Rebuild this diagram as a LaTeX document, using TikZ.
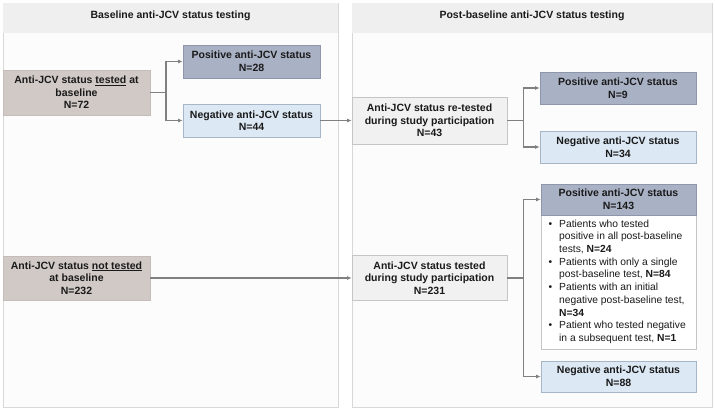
\documentclass[tikz,border=0pt]{standalone}
\usepackage{fontspec}
\setmainfont{Liberation Sans}
\usetikzlibrary{arrows.meta}
\definecolor{panelfill}{HTML}{FCFCFC}
\definecolor{panelborder}{HTML}{D8D8D8}
\definecolor{headfill}{HTML}{EFEFEF}
\definecolor{taupe}{HTML}{D0C9C6}
\definecolor{taupeb}{HTML}{C4BCB9}
\definecolor{posfill}{HTML}{A9B1C4}
\definecolor{posborder}{HTML}{8D96AA}
\definecolor{negfill}{HTML}{DCE9F5}
\definecolor{negborder}{HTML}{A7B6C6}
\definecolor{greyfill}{HTML}{F1F1F1}
\definecolor{greyborder}{HTML}{C5C5C5}
\definecolor{linegrey}{HTML}{808080}
\definecolor{txt}{HTML}{1A1A1A}
\tikzset{
  panel/.style={fill=panelfill, draw=panelborder, line width=0.6pt},
  headband/.style={fill=headfill, draw=none},
  headtext/.style={font=\fontsize{10.5}{12.6}\selectfont\bfseries, text=txt},
  box/.style={font=\fontsize{10.5}{12.6}\selectfont\bfseries, text=txt, align=center, inner sep=0pt, line width=0.6pt},
  taupebox/.style={box, fill=taupe, draw=taupeb},
  posbox/.style={box, fill=posfill, draw=posborder},
  negbox/.style={box, fill=negfill, draw=negborder},
  greybox/.style={box, fill=greyfill, draw=greyborder},
  listbox/.style={fill=white, draw=greyborder, line width=0.6pt, inner sep=0pt},
  conn/.style={draw=linegrey, line width=1.1pt},
  arr/.style={conn, -{Latex[length=4.5pt,width=4pt]}}
}
\begin{document}
\begin{tikzpicture}[x=1pt,y=-1pt]
\useasboundingbox (0,0) rectangle (715,410);
% panels
\draw[panel] (3,3) rectangle (338,407);
\fill[headband] (3.4,3.4) rectangle (337.6,33);
\draw[panel] (352,3) rectangle (712,407);
\fill[headband] (352.4,3.4) rectangle (711.6,33);
\node[headtext] (h1) at (170.5,16) {Baseline anti-JCV status testing};
\node[headtext] (h2) at (532,16) {Post-baseline anti-JCV status testing};
% left column
\node[taupebox, minimum width=147pt, minimum height=45pt] (tested) at (76.5,92.5)
  {Anti-JCV status \underline{tested} at\\baseline\\N=72};
\node[posbox, minimum width=137pt, minimum height=33pt] (pos28) at (251.5,61.5)
  {Positive anti-JCV status\\N=28};
\node[negbox, minimum width=137pt, minimum height=33pt] (neg44) at (251.5,120.5)
  {Negative anti-JCV status\\N=44};
\node[taupebox, minimum width=147pt, minimum height=44pt] (nottested) at (76.5,278)
  {Anti-JCV status \underline{not tested}\\at baseline\\N=232};
% right column
\node[greybox, minimum width=155pt, minimum height=47pt] (retest) at (429.5,120.5)
  {Anti-JCV status re-tested\\during study participation\\N=43};
\node[posbox, minimum width=156pt, minimum height=32pt] (pos9) at (618,88)
  {Positive anti-JCV status\\N=9};
\node[negbox, minimum width=156pt, minimum height=32pt] (neg34) at (618,147)
  {Negative anti-JCV status\\N=34};
\node[greybox, minimum width=155pt, minimum height=45pt] (t231) at (429.5,278)
  {Anti-JCV status tested\\during study participation\\N=231};
\node[listbox, minimum width=155pt, minimum height=134pt] (list) at (618.5,282) {};
\node[posbox, minimum width=155pt, minimum height=31pt] (pos143) at (618.5,199.5)
  {Positive anti-JCV status\\N=143};
\node[negbox, minimum width=155pt, minimum height=31pt] (neg88) at (618.5,376.5)
  {Negative anti-JCV status\\N=88};
\node[anchor=north west, align=left, inner sep=0pt, text=txt,
      font=\fontsize{10.3}{12.7}\selectfont] (items) at (559,219.5)
  {\llap{\textbullet\hspace{7pt}}Patients who tested\\
   positive in all post-baseline\\
   tests, \textbf{N=24}\\
   \llap{\textbullet\hspace{7pt}}Patients with only a single\\
   post-baseline test, \textbf{N=84}\\
   \llap{\textbullet\hspace{7pt}}Patients with an initial\\
   negative post-baseline test,\\
   \textbf{N=34}\\
   \llap{\textbullet\hspace{7pt}}Patient who tested negative\\
   in a subsequent test, \textbf{N=1}};
% connectors
\coordinate (b1) at (166,92.5);
\draw[conn] (tested.east) -- (b1);
\draw[arr] (b1) |- (pos28.west);
\draw[arr] (b1) |- (neg44.west);
\draw[arr] (neg44.east) -- (retest.west);
\coordinate (b2) at (523.5,120.5);
\draw[conn] (retest.east) -- (b2);
\draw[arr] (b2) |- (pos9.west);
\draw[arr] (b2) |- (neg34.west);
\draw[arr] (nottested.east) -- (t231.west);
\coordinate (b3) at (523.5,278);
\draw[conn] (t231.east) -- (b3);
\draw[arr] (b3) |- (pos143.west);
\draw[arr] (b3) |- (neg88.west);
\end{tikzpicture}
\end{document}
